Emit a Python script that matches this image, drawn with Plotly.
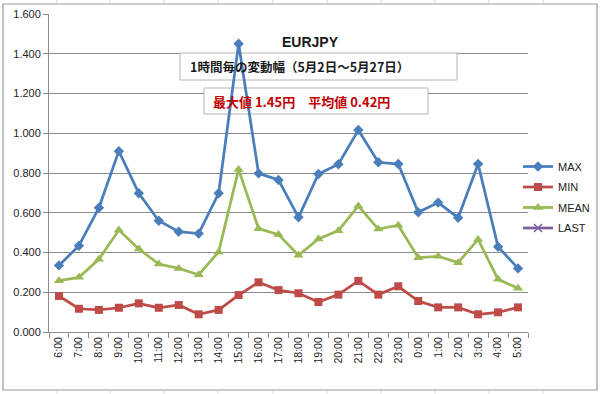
import plotly.graph_objects as go

hours = ["6:00", "7:00", "8:00", "9:00", "10:00", "11:00", "12:00", "13:00", "14:00",
         "15:00", "16:00", "17:00", "18:00", "19:00", "20:00", "21:00", "22:00", "23:00",
         "0:00", "1:00", "2:00", "3:00", "4:00", "5:00"]
max_vals = [0.335, 0.434, 0.625, 0.910, 0.698, 0.560, 0.505, 0.495, 0.698,
            1.450, 0.798, 0.765, 0.577, 0.795, 0.844, 1.016, 0.854, 0.845,
            0.602, 0.651, 0.575, 0.845, 0.429, 0.320]
min_vals = [0.181, 0.117, 0.111, 0.122, 0.144, 0.122, 0.136, 0.089, 0.111,
            0.186, 0.250, 0.211, 0.195, 0.151, 0.188, 0.257, 0.188, 0.230,
            0.156, 0.124, 0.124, 0.089, 0.099, 0.124]
mean_vals = [0.258, 0.275, 0.366, 0.513, 0.418, 0.342, 0.320, 0.288, 0.403,
             0.818, 0.520, 0.490, 0.386, 0.468, 0.510, 0.634, 0.518, 0.537,
             0.374, 0.381, 0.349, 0.466, 0.265, 0.220]
last_vals = [None] * len(hours)

title_text = "EURJPY"
subtitle_text = "1時間毎の変動幅（5月2日～5月27日）"
stats_text = "最大値 1.45円　平均値 0.42円"

LATIN = "Liberation Sans, Arial, sans-serif"
CJK = "Noto Sans CJK JP, sans-serif"
GRID = "#8c8c8c"
YMAX = 1.6

fig = go.Figure()
series = [
    ("MAX", max_vals, "#4A7EBB", "diamond", 8),
    ("MIN", min_vals, "#BE4B48", "square", 8),
    ("MEAN", mean_vals, "#98B954", "triangle-up", 9),
]
for name, vals, color, sym, size in series:
    fig.add_trace(go.Scatter(
        x=hours, y=vals, name=name, mode="lines+markers", legendgroup=name,
        line=dict(color=color, width=2.75),
        marker=dict(symbol=sym, size=size, color=color),
    ))
fig.add_trace(go.Scatter(
    x=hours, y=last_vals, name="LAST", mode="lines+markers", legendgroup="LAST",
    line=dict(color="#7D60A0", width=2.75),
    marker=dict(symbol="x-thin-open", size=8, color="#7D60A0",
                line=dict(color="#7D60A0", width=1.5)),
))

W, H = 600, 394
L, R, T, B = 49, 528, 14, 332
N = len(hours)


def px_x(px):
    return (px - L) / (R - L)


def px_y(py):
    return (B - py) / (B - T)


def cat_x(px):
    # pixel -> category-axis coordinate
    return -0.5 + (px - L) / (R - L) * N


def val_y(py):
    return (B - py) / (B - T) * YMAX


shapes = [
    # outer chart border
    dict(type="rect", xref="paper", yref="paper",
         x0=px_x(3), x1=px_x(597), y0=px_y(390), y1=px_y(4),
         line=dict(color="#9a9a9a", width=1.2), layer="below"),
    # text boxes (white, above gridlines, below the series)
    dict(type="rect", xref="x", yref="y",
         x0=cat_x(180), x1=cat_x(457), y0=val_y(80), y1=val_y(53),
         line=dict(color="#b4b4b4", width=1), fillcolor="white", layer="between"),
    dict(type="rect", xref="x", yref="y",
         x0=cat_x(204), x1=cat_x(428), y0=val_y(114), y1=val_y(88),
         line=dict(color="#b4b4b4", width=1), fillcolor="white", layer="between"),
]
# spreadsheet cell lines outside the chart
for cx in [57, 110, 164, 218, 273, 327, 381, 435, 489, 543]:
    shapes.append(dict(type="line", xref="paper", yref="paper",
                       x0=px_x(cx), x1=px_x(cx), y0=px_y(0), y1=px_y(4),
                       line=dict(color="#d0d0d0", width=1), layer="below"))
    shapes.append(dict(type="line", xref="paper", yref="paper",
                       x0=px_x(cx), x1=px_x(cx), y0=px_y(390), y1=px_y(393.5),
                       line=dict(color="#d0d0d0", width=1), layer="below"))

annotations = [
    dict(text="<b>" + title_text + "</b>", xref="paper", yref="paper",
         x=px_x(310), y=px_y(42), showarrow=False, xanchor="center", yanchor="middle",
         font=dict(family=LATIN, size=14, color="#1a1a1a")),
    dict(text="<b>" + subtitle_text + "</b>", xref="paper", yref="paper",
         x=px_x(188), y=px_y(67), showarrow=False, xanchor="left", yanchor="middle",
         font=dict(family=CJK, size=12.5, color="#1a1a1a")),
    dict(text="<b>" + stats_text + "</b>", xref="paper", yref="paper",
         x=px_x(211), y=px_y(101), showarrow=False, xanchor="left", yanchor="middle",
         font=dict(family=CJK, size=13, color="#C00000")),
]

fig.update_layout(
    width=W, height=H, autosize=False,
    margin=dict(l=L, r=W - R, t=T, b=H - B, pad=0, autoexpand=False),
    paper_bgcolor="white", plot_bgcolor="white",
    font=dict(family=LATIN, size=11, color="#222222"),
    shapes=shapes, annotations=annotations,
    showlegend=True,
    legend=dict(x=px_x(518), y=px_y(152), xanchor="left", yanchor="top",
                font=dict(family=LATIN, size=11, color="#222222"),
                bgcolor="rgba(0,0,0,0)", borderwidth=0, tracegroupgap=1.5),
)
fig.update_xaxes(
    type="category", range=[-0.5, N - 0.5], automargin=False,
    showgrid=False, showline=True, linecolor=GRID, linewidth=1,
    ticks="outside", tickson="boundaries", ticklen=5, tickcolor=GRID,
    tickangle=-90, tickfont=dict(family=LATIN, size=10.5, color="#222222"),
)
fig.update_yaxes(
    range=[0, YMAX], dtick=0.2, tickformat=".3f", automargin=False,
    showgrid=True, gridcolor=GRID, gridwidth=1, zeroline=False,
    showline=True, linecolor=GRID, linewidth=1,
    ticks="outside", ticklen=5, tickcolor=GRID,
    tickfont=dict(family=LATIN, size=11, color="#222222"),
)

reset_css = (
    "document.documentElement.style.margin='0';"
    "document.documentElement.style.padding='0';"
    "document.documentElement.style.overflow='hidden';"
    "document.body.style.margin='0';"
    "document.body.style.padding='0';"
    "document.body.style.overflow='hidden';"
)
fig.write_html("out.html", config={"displayModeBar": False, "responsive": False},
               post_script=reset_css)
